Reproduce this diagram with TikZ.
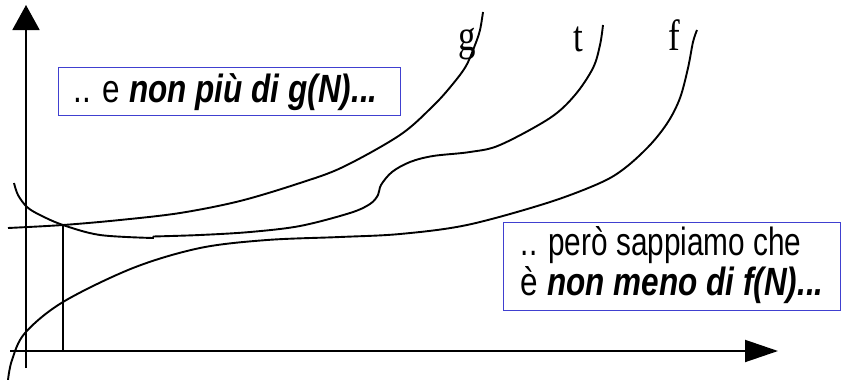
\documentclass[tikz,border=0pt]{standalone}
\usepackage{fontspec}
\setmainfont{Liberation Serif}
\setsansfont{Liberation Sans}
\usetikzlibrary{arrows.meta}
\definecolor{boxblue}{RGB}{64,64,208}
\tikzset{
  curve/.style={line width=1.9pt},
  axis/.style={line width=1.9pt},
  infobox/.style={draw=boxblue, line width=1.3pt, rectangle, inner sep=0pt, anchor=north west, font=\sffamily\fontsize{31.5}{31}\selectfont},
  clabel/.style={anchor=base, inner sep=0pt, font=\rmfamily\fontsize{35}{35}\selectfont}
}
\newcommand{\vstretch}[1]{\scalebox{1}[1.25]{#1}}
\begin{document}
\begin{tikzpicture}[x=1pt,y=-1pt]
\useasboundingbox (0,0) rectangle (843,380);
% axes
\coordinate (ybot) at (26,368);
\coordinate (ytop) at (26,5);
\coordinate (xleft) at (10,351);
\coordinate (xright) at (778,351);
\draw[axis,-{Triangle[length=25pt,width=27pt]}] (ybot) -- (ytop);
\draw[axis,-{Triangle[length=33pt,width=22pt]}] (xleft) -- (xright);
% N0 marker
\coordinate (n0top) at (63,226);
\coordinate (n0bot) at (63,351);
\draw[axis] (n0top) -- (n0bot);
% g
\draw[curve] plot[smooth,tension=0.55] coordinates {(8,228) (63,225) (120,220) (180,213) (240,201) (300,183) (343,167) (400,135) (433,106) (452,85) (466,66) (475,45) (480,30) (483,12)};
% t
\draw[curve] plot[smooth,tension=0.55] coordinates {(14,183) (18,195) (27,207) (40,215) (63,225) (100,235) (153,238)} -- (153,236.5)
  plot[smooth,tension=0.55] coordinates {(153,236.5) (200,235) (250,232) (300,226) (350,213) (370,204) (378,195) (381,185) (392,172) (410,162) (433,156) (470,152) (500,145) (550,118) (575,95) (593,68) (600,45) (603,25)};
% f
\draw[curve] plot[smooth,tension=0.55] coordinates {(8,380) (12,360) (25,333) (63,302) (133,268) (200,248) (267,240) (340,237) (400,234) (467,225) (547,203) (600,183) (625,168) (650,145) (668,122) (680,98) (688,68) (693,42) (697,30)};
% labels
\node[clabel] (lg) at (467,50) {\vstretch{g}};
\node[clabel] (lt) at (578,51) {\vstretch{t}};
\node[clabel] (lf) at (674,50) {\vstretch{f}};
% boxes
\node[infobox, minimum width=342pt, minimum height=48pt] (b1) at (58,67)
  {\vstretch{.. e \textbf{\textit{non più di g(N)...}}}\hspace*{8pt}};
\node[infobox, minimum width=337pt, minimum height=88pt] (b2) at (503,222)
  {\vstretch{\begin{tabular}{@{}l@{}}\scalebox{0.945}[1]{.. però sappiamo che}\\ è \textbf{\textit{non meno di f(N)...}}\end{tabular}}};
\end{tikzpicture}
\end{document}
